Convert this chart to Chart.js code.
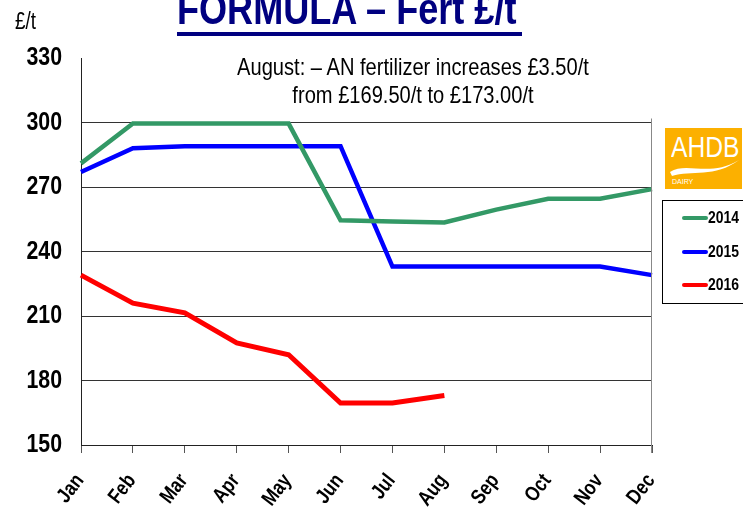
<!DOCTYPE html>
<html>
<head>
<meta charset="utf-8">
<script src="https://cdn.jsdelivr.net/npm/chart.js@4.4.0/dist/chart.umd.min.js"></script>
<style>
  body { margin: 0; background: #fff; overflow: hidden; }
  #wrap { position: relative; width: 743px; height: 509px; font-family: 'Liberation Sans', Arial, sans-serif; }
  .narrow { transform: scaleX(0.82); transform-origin: left top; white-space: nowrap; }
  #title { position: absolute; left: 177px; top: -13px; font-size: 44px; font-weight: bold; color: #000080; line-height: 44px; }
  #underline { position: absolute; left: 177px; top: 32px; width: 345px; height: 4px; background: #000080; }
  #unit { position: absolute; left: 15px; top: 8px; font-size: 23px; color: #000; }
  #note { position: absolute; left: 413px; top: 53px; font-size: 24.5px; line-height: 28px; color: #000; text-align: center;
          transform: translateX(-50%) scaleX(0.82); white-space: nowrap; }
  #logo { position: absolute; left: 665px; top: 128px; width: 77px; height: 61px; background: #FCB000; overflow: hidden; }
  #logo .txt { position: absolute; left: 6px; top: 4px; color: #fff; font-size: 30px; line-height: 30px; }
  #logo .dairy { position: absolute; left: 7px; top: 50px; color: #fff; font-size: 7px; }
  #legend { position: absolute; left: 662px; top: 200px; width: 90px; height: 102px; border: 1px solid #000; }
  .item { position: absolute; left: 19px; height: 18px; }
  .item span { position: absolute; left: 0; top: 7px; width: 26px; height: 4px; border-radius: 2px; }
  .item b { position: absolute; left: 26px; top: 0; font-size: 17px; line-height: 18px; }
</style>
</head>
<body>
<div id="wrap">
  <canvas id="fertChart" width="743" height="509"></canvas>
  <div id="title" class="narrow">FORMULA – Fert £/t</div>
  <div id="underline"></div>
  <div id="unit" class="narrow">£/t</div>
  <div id="note">August: – AN fertilizer increases £3.50/t<br>from £169.50/t to £173.00/t</div>
  <div id="logo">
    <div class="txt narrow">AHDB</div>
    <svg width="77" height="61" style="position:absolute;left:0;top:0">
      <path d="M5 44 C 22 33, 44 50, 74 32 C 50 50, 26 42, 7 48 Z" fill="#fff"/>
    </svg>
    <div class="dairy">DAIRY</div>
  </div>
  <div id="legend">
    <div class="item" style="top:8px"><span style="background:#339966"></span><b class="narrow">2014</b></div>
    <div class="item" style="top:42px"><span style="background:#0000ff"></span><b class="narrow">2015</b></div>
    <div class="item" style="top:75px"><span style="background:#ff0000"></span><b class="narrow">2016</b></div>
  </div>
</div>
<script>
// values, £/t
const months = ['Jan', 'Feb', 'Mar', 'Apr', 'May', 'Jun', 'Jul', 'Aug', 'Sep', 'Oct', 'Nov', 'Dec']
const fert2014 = [281, 299.5, 299.5, 299.5, 299.5, 254.5, 254, 253.5, 259.5, 264.5, 264.5, 269]
const fert2015 = [277, 288, 289, 289, 289, 289, 233, 233, 233, 233, 233, 229]
const fert2016 = [229, 216, 211.5, 197.5, 192, 169.5, 169.5, 173]
const yTicks = [150, 180, 210, 240, 270, 300, 330]

const fontFam = "'Liberation Sans', Arial, sans-serif"
const squeeze = 0.82 // no narrow font installed, so squeeze the tick text

// right hand frame line from 300 down past the axis
const rightLine = {
    id: 'rightLine',
    afterDraw(chart) {
        const ctx = chart.ctx
        const area = chart.chartArea
        const top = chart.scales.y.getPixelForValue(300) - 4
        ctx.save()
        ctx.strokeStyle = '#888'
        ctx.lineWidth = 1
        ctx.beginPath()
        ctx.moveTo(Math.round(area.right) - 0.5, top)
        ctx.lineTo(Math.round(area.right) - 0.5, area.bottom + 8)
        ctx.stroke()
        ctx.restore()
    }
}

// draws the tick labels of both scales in a condensed look
const narrowTicks = {
    id: 'narrowTicks',
    afterDraw(chart) {
        const ctx = chart.ctx
        const xs = chart.scales.x
        const ys = chart.scales.y
        ctx.save()
        ctx.fillStyle = '#000'
        ctx.textBaseline = 'middle'
        ctx.textAlign = 'right'

        ctx.font = 'bold 26px ' + fontFam
        ys.ticks.forEach((t, i) => {
            const y = ys.getPixelForTick(i)
            ctx.save()
            ctx.translate(62, y)
            ctx.scale(squeeze, 1)
            ctx.fillText(String(t.value), 0, 0)
            ctx.restore()
        })

        ctx.font = 'bold 21px ' + fontFam
        xs.ticks.forEach((t, i) => {
            const x = xs.getPixelForTick(i)
            ctx.save()
            ctx.translate(x - 1, xs.top + 32)
            ctx.rotate(-52 * Math.PI / 180)
            ctx.scale(squeeze, 1)
            ctx.fillText(xs.getLabelForValue(t.value), 0, 0)
            ctx.restore()
        })
        ctx.restore()
    }
}

let fertChart = new Chart(document.getElementById('fertChart').getContext('2d'), {
    type: 'line',
    data: {
        labels: months,
        datasets: [
            { label: '2014', data: fert2014, borderColor: '#339966', borderWidth: 4.5 },
            { label: '2015', data: fert2015, borderColor: '#0000ff', borderWidth: 4.5 },
            { label: '2016', data: fert2016, borderColor: '#ff0000', borderWidth: 5 }
        ]
    },
    options: {
        responsive: false,
        animation: false,
        layout: { padding: { top: 58, right: 91, left: 0, bottom: 0 } },
        elements: { point: { radius: 0 }, line: { tension: 0 } },
        plugins: { legend: { display: false }, tooltip: { enabled: false } },
        scales: {
            x: {
                afterFit: s => { s.height = 64 },
                grid: { drawOnChartArea: false, drawTicks: true, tickLength: 8, color: '#555' },
                border: { color: '#222' },
                ticks: {
                    autoSkip: false, maxRotation: 50, minRotation: 50,
                    color: 'rgba(0,0,0,0)', font: { family: fontFam, size: 16, weight: 'bold' }
                }
            },
            y: {
                min: 150, max: 330,
                afterFit: s => { s.width = 81 },
                afterBuildTicks: s => { s.ticks = yTicks.map(v => ({ value: v })) },
                grid: {
                    drawTicks: false,
                    color: c => c.tick && c.tick.value === 330 ? 'rgba(0,0,0,0)' : '#333'
                },
                border: { color: '#222' },
                ticks: {
                    padding: 19, color: 'rgba(0,0,0,0)',
                    font: { family: fontFam, size: 22, weight: 'bold' }
                }
            }
        }
    },
    plugins: [rightLine, narrowTicks]
});
</script>
</body>
</html>
